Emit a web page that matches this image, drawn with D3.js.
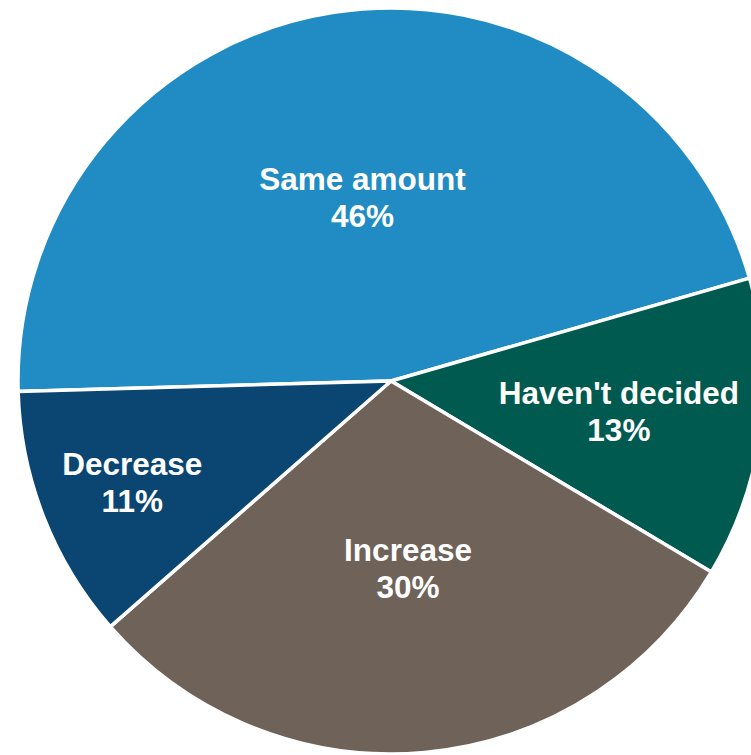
<!DOCTYPE html>
<html>
<head>
<meta charset="utf-8">
<script src="https://cdn.jsdelivr.net/npm/d3@7"></script>
<style>
  html, body { margin: 0; padding: 0; background: #ffffff; }
  svg { display: block; }
</style>
</head>
<body>
<svg id="chart" width="751" height="755"></svg>
<script>
// Survey answers and their shares (percent)
const categories = ["Same amount", "Haven't decided", "Increase", "Decrease"];
const shares = [46, 13, 30, 11];
const colors = ["#218cc3", "#005a4f", "#6e6259", "#0b4571"];

// How far out each label sits, as a fraction of the radius
const labelRadiusFactor = [0.50, 0.616, 0.504, 0.745];

const width = 751, height = 755;
const cx = 391, cy = 381, radius = 373;
const startDeg = -91.6;

const svg = d3.select("#chart");
const g = svg.append("g").attr("transform", `translate(${cx},${cy})`);

const rows = categories.map((c, i) => ({ name: c, value: shares[i], color: colors[i], lf: labelRadiusFactor[i] }));

const pie = d3.pie()
  .sort(null)
  .value(d => d.value)
  .startAngle(startDeg * Math.PI / 180)
  .endAngle((startDeg + 360) * Math.PI / 180);

const arc = d3.arc().innerRadius(0).outerRadius(radius);
const arcs = pie(rows);

g.selectAll("path.slice")
  .data(arcs)
  .join("path")
  .attr("class", "slice")
  .attr("d", arc)
  .attr("fill", d => d.data.color)
  .attr("stroke", "#ffffff")
  .attr("stroke-width", 3.5)
  .attr("stroke-linejoin", "miter");

const fontSize = 31.5;
const labels = g.selectAll("text.label")
  .data(arcs)
  .join("text")
  .attr("class", "label")
  .attr("transform", d => {
    const a = (d.startAngle + d.endAngle) / 2;
    const r = radius * d.data.lf;
    return `translate(${Math.sin(a) * r},${-Math.cos(a) * r})`;
  })
  .attr("text-anchor", "middle")
  .attr("fill", "#ffffff")
  .style("font-family", "'Liberation Sans', Arial, sans-serif")
  .style("font-weight", "bold")
  .style("font-size", fontSize + "px");

labels.append("tspan")
  .attr("x", 0)
  .attr("y", -7)
  .text(d => d.data.name);

labels.append("tspan")
  .attr("x", 0)
  .attr("y", 30)
  .text(d => d3.format("d")(d.data.value) + "%");
</script>
</body>
</html>
